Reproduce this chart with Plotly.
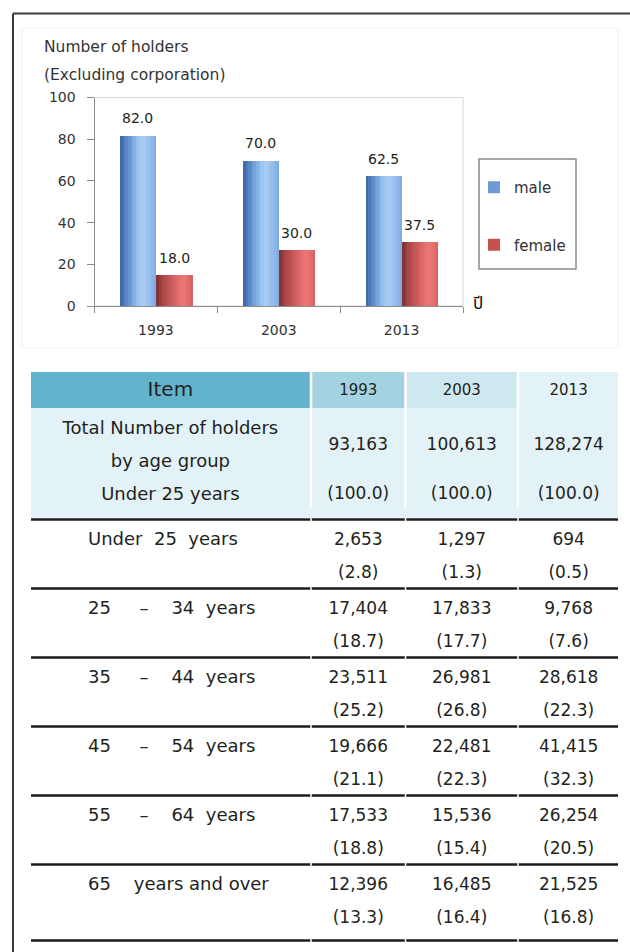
import plotly.graph_objects as go

# ---------------- data ----------------
years = ["1993", "2003", "2013"]
male_values = [82.0, 70.0, 62.5]
male_labels = [82.0, 70.0, 62.5]
female_values = [14.9, 27.0, 30.8]      # bar heights as drawn in the picture
female_labels = [18.0, 30.0, 37.5]      # printed labels

chart_title = ["Number of holders", "(Excluding corporation)"]
x_unit = "ปี"
series_names = ["male", "female"]

table_header = ["Item", "1993", "2003", "2013"]
total_label = ["Total Number of holders", "by age group", "Under 25 years"]
total_holders = [93163, 100613, 128274]
total_pct = [100.0, 100.0, 100.0]

age_groups = ["Under  25  years", "25     –    34  years", "35     –    44  years",
              "45     –    54  years", "55     –    64  years", "65    years and over"]
holders_1993 = [2653, 17404, 23511, 19666, 17533, 12396]
pct_1993 = [2.8, 18.7, 25.2, 21.1, 18.8, 13.3]
holders_2003 = [1297, 17833, 26981, 22481, 15536, 16485]
pct_2003 = [1.3, 17.7, 26.8, 22.3, 15.4, 16.4]
holders_2013 = [694, 9768, 28618, 41415, 26254, 21525]
pct_2013 = [0.5, 7.6, 22.3, 32.3, 20.5, 16.8]

# ---------------- layout constants ----------------
W, H = 630, 952
FONT = "DejaVu Sans"
TXT = "#231f20"


def px(x):
    return x / W


def py(y):
    return 1 - y / H


def hex2rgb(h):
    h = h.lstrip("#")
    return tuple(int(h[i:i + 2], 16) for i in (0, 2, 4))


def interp(stops, t):
    for (t0, c0), (t1, c1) in zip(stops, stops[1:]):
        if t0 <= t <= t1:
            f = (t - t0) / (t1 - t0) if t1 > t0 else 0
            a, b = hex2rgb(c0), hex2rgb(c1)
            return "rgb(%d,%d,%d)" % tuple(round(a[i] + (b[i] - a[i]) * f) for i in range(3))
    return stops[-1][1]


BAR_W = 0.295
N_STRIPS = 14
blue_stops = [(0, "#3a62a0"), (0.15, "#5382c3"), (0.45, "#92bcec"), (0.62, "#aacff6"),
              (0.82, "#95bcec"), (1.0, "#7ca8df")]
red_stops = [(0, "#7c2e2e"), (0.15, "#a54343"), (0.5, "#d76363"), (0.72, "#ec7878"),
             (0.88, "#e56d6d"), (1.0, "#d45d5d")]

fig = go.Figure()

series = [
    ("male", male_values, male_labels, -BAR_W, "#6e9bd6", blue_stops),
    ("female", female_values, female_labels, 0.0, "#c8504d", red_stops),
]

annotations = []
for name, vals, labels, off, legend_color, stops in series:
    fig.add_trace(go.Bar(
        x=years, y=vals, name=name, legendgroup=name, offset=off, width=BAR_W,
        marker=dict(color=legend_color, line=dict(width=0)), hoverinfo="skip",
    ))
    sw = BAR_W / N_STRIPS
    for k in range(N_STRIPS):
        t = (k + 0.5) / N_STRIPS
        fig.add_trace(go.Bar(
            x=years, y=vals, offset=off + k * sw,
            width=sw * (1.25 if k < N_STRIPS - 1 else 1.0),
            marker=dict(color=interp(stops, t), line=dict(width=0)),
            showlegend=False, hoverinfo="skip", legendgroup=name,
        ))
    for i, (v, lab) in enumerate(zip(vals, labels)):
        annotations.append(dict(
            x=i + off + BAR_W / 2, y=v, xref="x", yref="y", text=f"{lab:.1f}",
            showarrow=False, yshift=17, font=dict(family=FONT, size=14, color=TXT),
        ))

# chart titles and unit
for j, line in enumerate(chart_title):
    annotations.append(dict(
        x=px(42), y=py(47 + 28 * j), xref="paper", yref="paper", text=line,
        xanchor="left", yanchor="middle", showarrow=False,
        font=dict(family=FONT, size=15.5, color="#333333"),
    ))
annotations.append(dict(
    x=px(471), y=py(304), xref="paper", yref="paper", text=x_unit,
    xanchor="left", yanchor="middle", showarrow=False,
    font=dict(family="Noto Sans Thai, Loma, Garuda, Tlwg Typo, DejaVu Sans", size=17, color="#111111"),
))

shapes = []
# outer frame
shapes.append(dict(type="line", xref="paper", yref="paper", x0=px(13), x1=1, y0=py(13.5), y1=py(13.5),
                   line=dict(color="#3a3a3a", width=2)))
shapes.append(dict(type="line", xref="paper", yref="paper", x0=px(13), x1=px(13), y0=py(13.5), y1=0,
                   line=dict(color="#3a3a3a", width=2)))
# faint chart container
shapes.append(dict(type="rect", xref="paper", yref="paper", x0=px(22), x1=px(618), y0=py(348), y1=py(28),
                   line=dict(color="#f0f0f0", width=1), layer="below"))
# plot-area border (top/right light)
shapes.append(dict(type="rect", xref="x domain", yref="y domain", x0=0, x1=1, y0=0, y1=1,
                   line=dict(color="#d6d6d6", width=1), layer="below"))
# legend box
shapes.append(dict(type="rect", xref="paper", yref="paper", x0=px(479), x1=px(576), y0=py(269), y1=py(159),
                   line=dict(color="#8a8a8a", width=1.5)))

# ---------------- table (on a hidden pixel-scaled axis pair) ----------------
COL_EDGES = [31, 311, 405.5, 518, 618]
GAP = 2.5
HEAD_TOP, HEAD_BOT = 372, 408
TOTAL_BOT = 517
RULE_TOP = 519.5
ROW_H = 69
LAST_ROW_H = 76
LINE_STEP = 33
header_fills = ["#62b4cc", "#a3d3e1", "#cde8ef", "#e3f2f7"]
body_fill = "#e3f2f7"

col_left = [COL_EDGES[i] + (GAP / 2 if i > 0 else 0) for i in range(4)]
col_right = [COL_EDGES[i + 1] - (GAP / 2 if i < 3 else 0) for i in range(4)]
col_center = [(a + b) / 2 for a, b in zip(col_left, col_right)]

for c in range(4):
    shapes.append(dict(type="rect", xref="x2", yref="y2", x0=col_left[c], x1=col_right[c],
                       y0=HEAD_TOP, y1=HEAD_BOT, fillcolor=header_fills[c], line=dict(width=0), layer="below"))
    shapes.append(dict(type="rect", xref="x2", yref="y2", x0=col_left[c], x1=col_right[c],
                       y0=HEAD_BOT, y1=TOTAL_BOT - 9, fillcolor=body_fill, line=dict(width=0), layer="below"))
shapes.append(dict(type="rect", xref="x2", yref="y2", x0=COL_EDGES[0], x1=COL_EDGES[-1],
                   y0=TOTAL_BOT - 9.5, y1=TOTAL_BOT + 0.5, fillcolor=body_fill, line=dict(width=0), layer="below"))

n_rows = len(age_groups)
row_tops = [RULE_TOP + ROW_H * r for r in range(n_rows)]
rules = row_tops + [row_tops[-1] + LAST_ROW_H]
for yv in rules:
    for c in range(4):
        shapes.append(dict(type="line", xref="x2", yref="y2", x0=col_left[c] - (0.5 if c else 0),
                           x1=col_right[c] + (0.5 if c < 3 else 0), y0=yv, y1=yv,
                           line=dict(color="#1c1c1c", width=2.5)))


def text_trace(xs, ys, texts, size, pos="middle center"):
    return go.Scatter(x=xs, y=ys, text=texts, mode="text", textposition=pos,
                      textfont=dict(family=FONT, size=size, color=TXT),
                      xaxis="x2", yaxis="y2", showlegend=False, hoverinfo="skip", cliponaxis=False)


head_y = (HEAD_TOP + HEAD_BOT) / 2 + 1
fig.add_trace(text_trace([col_center[0]], [head_y], [table_header[0]], 20))
fig.add_trace(text_trace(col_center[1:], [head_y] * 3, table_header[1:], 15))

total_line_y = [HEAD_BOT + 21 + LINE_STEP * k for k in range(len(total_label))]
fig.add_trace(text_trace([col_center[0]] * len(total_label), total_line_y, total_label, 18))
fig.add_trace(text_trace(col_center[1:], [(total_line_y[0] + total_line_y[1]) / 2] * 3,
                         [f"{v:,}" for v in total_holders], 17))
fig.add_trace(text_trace(col_center[1:], [total_line_y[2]] * 3, [f"({v:.1f})" for v in total_pct], 17))

label_y = [t + 21 for t in row_tops]
pct_y = [t + 21 + LINE_STEP for t in row_tops]
fig.add_trace(text_trace([88] * n_rows, label_y, [s.replace(" ", "\u00a0") for s in age_groups], 18,
                         pos="middle right"))
for c, (hv, pv) in enumerate([(holders_1993, pct_1993), (holders_2003, pct_2003), (holders_2013, pct_2013)]):
    fig.add_trace(text_trace([col_center[c + 1]] * n_rows, label_y, [f"{v:,}" for v in hv], 17))
    fig.add_trace(text_trace([col_center[c + 1]] * n_rows, pct_y, [f"({v:.1f})" for v in pv], 17))

fig.update_layout(
    width=W, height=H, margin=dict(l=0, r=0, t=0, b=0, autoexpand=False),
    paper_bgcolor="white", plot_bgcolor="rgba(0,0,0,0)",
    barmode="overlay", bargap=0,
    font=dict(family=FONT, color=TXT),
    showlegend=True,
    legend=dict(x=px(474), y=py(171), xanchor="left", yanchor="top", bgcolor="rgba(0,0,0,0)",
                borderwidth=0, font=dict(family=FONT, size=15, color="#333333"),
                tracegroupgap=35, itemclick=False, itemdoubleclick=False),
    xaxis=dict(domain=[px(94.5), px(463)], type="category", categoryorder="array", categoryarray=years,
               range=[-0.5, 2.5], tickson="boundaries", ticks="outside", ticklen=6, tickcolor="#8c8c8c",
               showline=True, linecolor="#8c8c8c", linewidth=1, showgrid=False, zeroline=False,
               tickfont=dict(family=FONT, size=14, color="#333333"), ticklabelstandoff=11,
               fixedrange=True, anchor="y", automargin=False),
    yaxis=dict(domain=[py(306), py(97.5)], range=[0, 100], tickvals=[0, 20, 40, 60, 80, 100],
               ticks="outside", ticklen=7, tickcolor="#8c8c8c", showline=True, linecolor="#8c8c8c",
               linewidth=1, showgrid=False, zeroline=False,
               tickfont=dict(family=FONT, size=14, color="#333333"), ticklabelstandoff=8,
               fixedrange=True, anchor="x", automargin=False),
    xaxis2=dict(domain=[0, 1], range=[0, W], visible=False, fixedrange=True, anchor="y2", automargin=False),
    yaxis2=dict(domain=[0, 1], range=[H, 0], visible=False, fixedrange=True, anchor="x2", automargin=False),
    annotations=annotations,
    shapes=shapes,
)

fig.write_html(
    "out.html",
    config={"displayModeBar": False, "responsive": False},
    post_script=(
        "document.documentElement.style.overflow='hidden';"
        "document.body.style.margin='0';document.body.style.overflow='hidden';"
        "document.body.style.height='952px';"
        "var gd=document.getElementsByClassName('plotly-graph-div')[0];"
        "gd.style.position='fixed';gd.style.top='0px';gd.style.left='0px';"
    ),
)
